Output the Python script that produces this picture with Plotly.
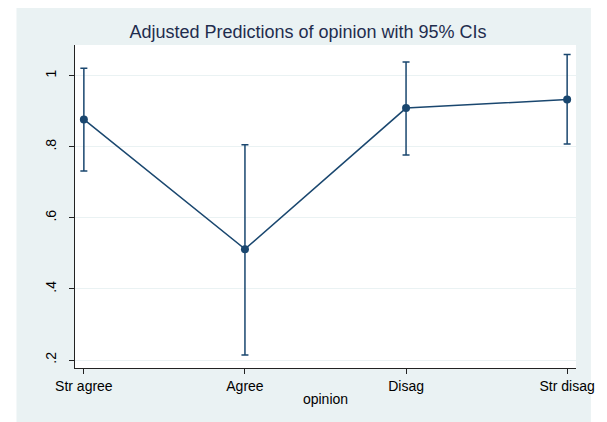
import plotly.graph_objects as go

categories = ["Str agree", "Agree", "Disag", "Str disag"]
margin_vals = [0.877, 0.512, 0.909, 0.933]
ci_upper = [1.021, 0.806, 1.039, 1.060]
ci_lower = [0.732, 0.214, 0.777, 0.808]
y_ticks = [0.2, 0.4, 0.6, 0.8, 1.0]
y_tick_labels = [".2", ".4", ".6", ".8", "1"]

xpos = list(range(len(categories)))
navy = "#1a476f"
bg = "#eaf2f3"

fig = go.Figure()
fig.add_trace(go.Scatter(
    x=xpos, y=margin_vals, mode="lines+markers",
    line=dict(color=navy, width=1.5),
    marker=dict(color=navy, size=8),
    error_y=dict(type="data", symmetric=False,
                 array=[u - m for u, m in zip(ci_upper, margin_vals)],
                 arrayminus=[m - l for m, l in zip(margin_vals, ci_lower)],
                 color=navy, thickness=1.5, width=3.5),
    showlegend=False,
))

# page body has an 8px margin, so the figure is shifted by 8px
W, H = 599, 414
L, R, T, B = 67, 27, 37, 54
pw, ph = W - L - R, H - T - B
def px(x): return (x - L) / pw
def py(y): return (H - B - y) / ph

fig.add_shape(type="rect", xref="paper", yref="paper",
              x0=px(8), x1=px(587), y0=py(416), y1=py(-3),
              fillcolor=bg, line=dict(width=0), layer="below")
fig.add_shape(type="rect", xref="paper", yref="paper",
              x0=0, x1=1, y0=0, y1=1,
              fillcolor="white", line=dict(width=0), layer="below")

fig.update_layout(
    width=W, height=H,
    margin=dict(l=L, r=R, t=T, b=B),
    paper_bgcolor="white", plot_bgcolor="rgba(0,0,0,0)",
    font=dict(family="Liberation Sans, Arial, sans-serif", size=14, color="black"),
    title=dict(text="Adjusted Predictions of opinion with 95% CIs",
               x=300 / W, xanchor="center", y=1 - 24 / H, yanchor="middle",
               font=dict(size=18, color="#1f2d4e")),
)
fig.update_xaxes(
    range=[-0.055, 3.055], tickmode="array", tickvals=xpos, ticktext=categories,
    showgrid=False, zeroline=False, showline=True, linecolor="#222", linewidth=1,
    ticks="outside", ticklen=5, tickcolor="#222",
    title=dict(text="opinion", standoff=1, font=dict(size=14)),
    tickfont=dict(size=14),
)
fig.update_yaxes(
    range=[0.1775, 1.0865], tickmode="array", tickvals=y_ticks, ticktext=y_tick_labels,
    tickangle=-90, showgrid=True, gridcolor=bg, gridwidth=1.2, zeroline=False,
    showline=True, linecolor="#222", linewidth=1,
    ticks="outside", ticklen=5, tickcolor="#222", tickfont=dict(size=14),
    ticklabelstandoff=7,
)

fig.write_html("out.html")
